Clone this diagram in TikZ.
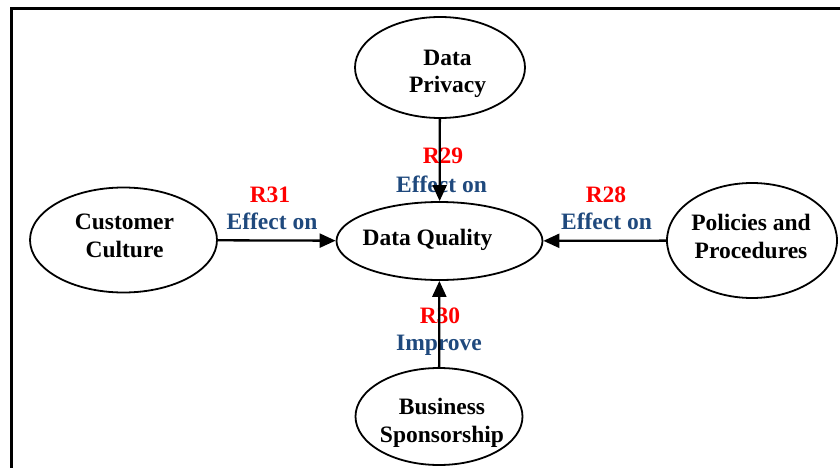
\documentclass[tikz,border=0pt]{standalone}
\usepackage{fontspec}
\setmainfont{Liberation Serif}
\usetikzlibrary{shapes.geometric,arrows.meta}
\definecolor{relred}{RGB}{255,0,0}
\definecolor{relblue}{RGB}{31,73,125}
\begin{document}
\begin{tikzpicture}[x=1pt,y=-1pt,
  bubble/.style={draw, ellipse, line width=1.8pt, inner sep=0pt},
  caption/.style={font=\bfseries\fontsize{23.5}{27.5}\selectfont, align=center, inner sep=0pt},
  relid/.style={caption, text=relred, anchor=base},
  reltext/.style={caption, text=relblue, anchor=base},
  link/.style={line width=2.3pt, -{Triangle[length=16pt,width=14pt]}}
]
\useasboundingbox (0,0) rectangle (840,468);

% frame (open on the right and bottom)
\draw[line width=3pt] (11,468) -- (11,9) -- (840,9);

% ellipses
\node[bubble, minimum width=170pt, minimum height=101pt] (dp) at (440,67.5) {};
\node[bubble, minimum width=187pt, minimum height=105pt] (cc) at (123.5,240) {};
\node[bubble, minimum width=206pt, minimum height=78pt]  (dq) at (439.5,241) {};
\node[bubble, minimum width=170pt, minimum height=115pt] (pp) at (752,240.5) {};
\node[bubble, minimum width=167pt, minimum height=97pt]  (bs) at (439,416.5) {};

% ellipse texts
\node[caption] (dpt) at (447.5,73.8) {Data\\Privacy};
\node[caption] (cct) at (124.5,236) {Customer\\Culture};
\node[caption, anchor=base] (dqt) at (427.5,245) {Data Quality};
\node[caption] (ppt) at (751,236.5) {Policies and\\Procedures};
\node[caption] (bst) at (442,423) {Business\\Sponsorship};

% relation labels
\node[relid]   (r29)  at (443,163) {R29};
\node[reltext] (e29)  at (441.5,192) {Effect on};
\node[relid]   (r31)  at (270,202) {R31};
\node[reltext] (e31)  at (272,229) {Effect on};
\node[relid]   (r28)  at (606,202) {R28};
\node[reltext] (e28)  at (606.5,229) {Effect on};
\node[relid]   (r30)  at (440,323) {R30};
\node[reltext] (e30)  at (439,350) {Improve};

% connectors
\draw[link] (dp) -- (dq);
\draw[link] (cc) -- (dq);
\draw[link] (pp) -- (dq);
\draw[link] (bs) -- (dq);
\end{tikzpicture}
\end{document}
